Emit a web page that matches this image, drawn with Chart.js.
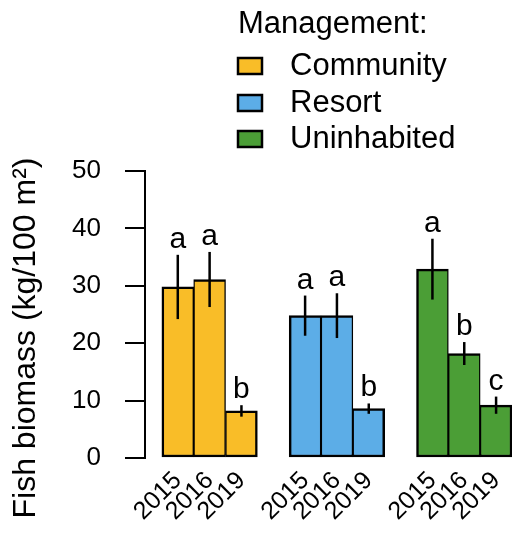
<!DOCTYPE html>
<html>
<head>
<meta charset="utf-8">
<script src="https://cdn.jsdelivr.net/npm/chart.js@4/dist/chart.umd.min.js"></script>
<style>
  html, body { margin: 0; padding: 0; background: #ffffff; }
  #wrap { width: 514px; height: 533px; }
</style>
</head>
<body>
<div id="wrap"><canvas id="c" width="514" height="533"></canvas></div>
<script>
// ---- data ----
const years = ['2015', '2016', '2019'];
const groups = ['Community', 'Resort', 'Uninhabited'];
const communityMean = [29.8, 31.1, 8.2];
const communitySE = [5.6, 4.8, 1.0];
const communityLetters = ['a', 'a', 'b'];
const resortMean = [24.8, 24.8, 8.6];
const resortSE = [3.5, 3.9, 0.9];
const resortLetters = ['a', 'a', 'b'];
const uninhabitedMean = [32.9, 18.2, 9.2];
const uninhabitedSE = [5.3, 2.0, 1.5];
const uninhabitedLetters = ['a', 'b', 'c'];
const yTicks = [0, 10, 20, 30, 40, 50];
const legendTitle = 'Management:';
const yTitle = 'Fish biomass (kg/100 m\u00B2)';

// ---- styling ----
const colors = ['#F9BD28', '#5CADE7', '#4B9E36'];
const FONT = '"Liberation Sans", Arial, Helvetica, sans-serif';

const means = [communityMean, resortMean, uninhabitedMean];
const ses = [communitySE, resortSE, uninhabitedSE];
const letters = [communityLetters, resortLetters, uninhabitedLetters];
const slot = (g, i) => g * (years.length + 1) + i;
const tickPositions = [];
groups.forEach((g, gi) => years.forEach((y, yi) => tickPositions.push(slot(gi, yi))));

const datasets = groups.map((g, gi) => ({
  label: g,
  data: means[gi].map((v, yi) => ({ x: slot(gi, yi), y: v })),
  se: ses[gi],
  letters: letters[gi],
  backgroundColor: colors[gi],
  borderColor: '#000000',
  borderWidth: (c) => ({
    top: 2.5, bottom: 2.5,
    left: c.dataIndex === 0 ? 2.5 : 1.4,
    right: c.dataIndex === years.length - 1 ? 2.5 : 1.4
  }),
  borderSkipped: false,
  grouped: false,
  barPercentage: 1.0,
  categoryPercentage: 1.0
}));

const extras = {
  id: 'extras',
  beforeDraw(chart) {
    const ctx = chart.ctx;
    ctx.save();
    ctx.fillStyle = '#ffffff';
    ctx.fillRect(0, 0, chart.width, chart.height);
    ctx.restore();
  },
  afterDatasetsDraw(chart) {
    const ctx = chart.ctx;
    const ys = chart.scales.y;
    ctx.save();
    chart.data.datasets.forEach((ds, di) => {
      const meta = chart.getDatasetMeta(di);
      meta.data.forEach((el, i) => {
        const v = ds.data[i].y;
        const se = ds.se[i];
        const top = ys.getPixelForValue(v + se);
        const bot = ys.getPixelForValue(v - se);
        ctx.strokeStyle = '#000000';
        ctx.lineWidth = 2.5;
        ctx.beginPath();
        ctx.moveTo(el.x, top);
        ctx.lineTo(el.x, bot);
        ctx.stroke();
        ctx.fillStyle = '#000000';
        ctx.font = '30px ' + FONT;
        ctx.textAlign = 'center';
        ctx.textBaseline = 'alphabetic';
        ctx.fillText(ds.letters[i], el.x, top - 7);
      });
    });
    // y axis title
    ctx.save();
    ctx.translate(35, 338);
    ctx.rotate(-Math.PI / 2);
    ctx.font = '32px ' + FONT;
    ctx.fillStyle = '#000000';
    ctx.textAlign = 'center';
    ctx.textBaseline = 'alphabetic';
    ctx.fillText(yTitle, 0, 0);
    ctx.restore();
    // legend
    ctx.font = '31px ' + FONT;
    ctx.fillStyle = '#000000';
    ctx.textAlign = 'left';
    ctx.textBaseline = 'alphabetic';
    ctx.fillText(legendTitle, 238, 33);
    const rowBase = [75, 112, 148];
    groups.forEach((g, gi) => {
      const b = rowBase[gi];
      ctx.fillStyle = colors[gi];
      ctx.fillRect(238, b - 17, 24, 16);
      ctx.strokeStyle = '#000000';
      ctx.lineWidth = 2.5;
      ctx.strokeRect(238, b - 17, 24, 16);
      ctx.fillStyle = '#000000';
      ctx.fillText(g, 290, b);
    });
    ctx.restore();
  }
};

new Chart(document.getElementById('c'), {
  type: 'bar',
  data: { datasets },
  options: {
    responsive: false,
    devicePixelRatio: 1,
    animation: false,
    layout: { padding: { top: 171, right: 2, bottom: 0, left: 0 } },
    plugins: { legend: { display: false }, tooltip: { enabled: false } },
    scales: {
      x: {
        type: 'linear',
        offset: false,
        min: -1.03,
        max: 10.5,
        afterBuildTicks(axis) { axis.ticks = tickPositions.map(v => ({ value: v })); },
        afterFit(axis) { axis.height = 75; axis.paddingLeft = 0; axis.paddingRight = 0; },
        grid: { display: false },
        border: { display: false },
        ticks: {
          autoSkip: false,
          minRotation: 45,
          maxRotation: 45,
          padding: 0,
          color: '#000000',
          font: { family: FONT, size: 25 },
          callback: (v) => years[v % (years.length + 1)] ?? ''
        }
      },
      y: {
        min: 0,
        max: 50,
        afterBuildTicks(axis) { axis.ticks = yTicks.map(v => ({ value: v })); },
        afterFit(axis) { axis.width = 145; },
        grid: { drawOnChartArea: false, drawTicks: true, tickLength: 20, color: '#000000', lineWidth: 2 },
        border: { display: true, color: '#000000', width: 2 },
        ticks: {
          padding: 24,
          color: '#000000',
          font: { family: FONT, size: 26 }
        }
      }
    }
  },
  plugins: [extras]
});
</script>
</body>
</html>
